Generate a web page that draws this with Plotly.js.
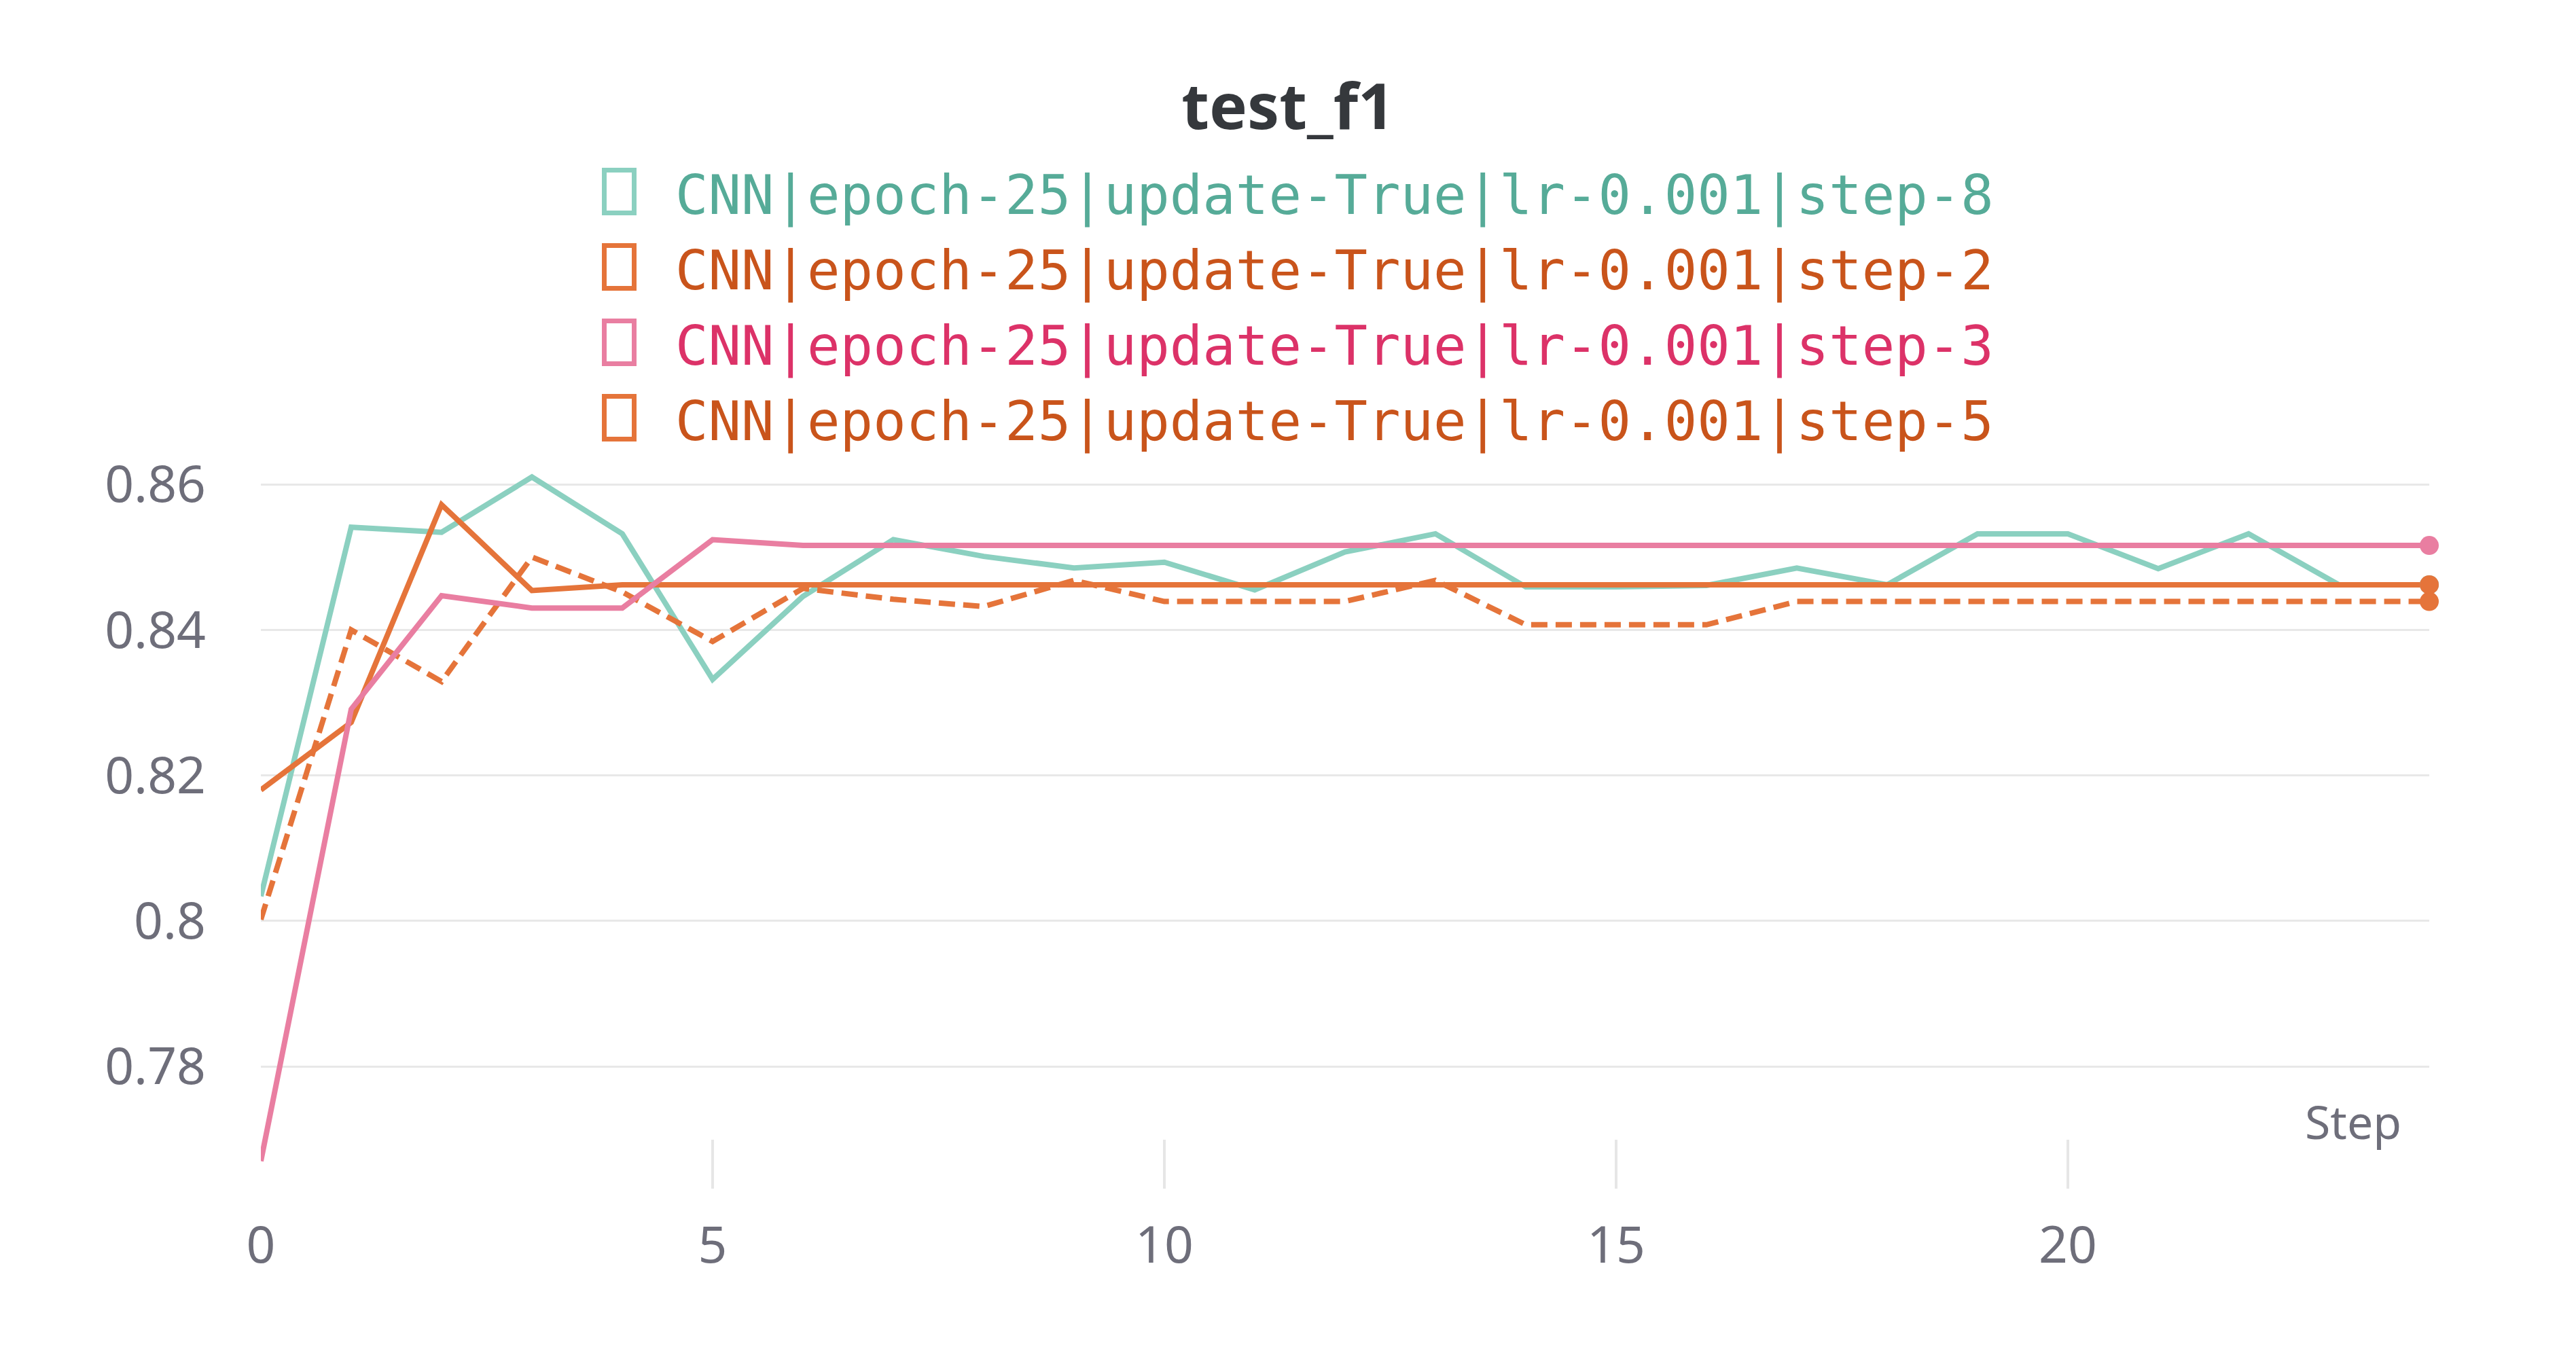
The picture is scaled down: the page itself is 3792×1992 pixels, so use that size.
<!DOCTYPE html>
<html><head><meta charset="utf-8">
<script src="https://cdn.plot.ly/plotly-3.0.1.min.js"></script>
<style>html,body{margin:0;padding:0;background:#fff;} #chart{width:3792px;height:1992px;}</style>
</head><body><div id="chart"></div>
<script>
// ---- data ----
const steps = [0,1,2,3,4,5,6,7,8,9,10,11,12,13,14,15,16,17,18,19,20,21,22,23,24];
const step8 = [0.8034,0.8541,0.8534,0.8610,0.8532,0.8332,0.8446,0.8524,0.8501,0.8485,0.8493,0.8455,0.8507,0.8532,0.8459,0.8459,0.8461,0.8485,0.8462,0.8532,0.8532,0.8484,0.8532,0.8462,0.8462];
const step2 = [0.8180,0.8273,0.8572,0.8454,0.8462,0.8462,0.8462,0.8462,0.8462,0.8462,0.8462,0.8462,0.8462,0.8462,0.8462,0.8462,0.8462,0.8462,0.8462,0.8462,0.8462,0.8462,0.8462,0.8462,0.8462];
const step3 = [0.7670,0.8291,0.8447,0.8430,0.8430,0.8524,0.8516,0.8516,0.8516,0.8516,0.8516,0.8516,0.8516,0.8516,0.8516,0.8516,0.8516,0.8516,0.8516,0.8516,0.8516,0.8516,0.8516,0.8516,0.8516];
const step5 = [0.8002,0.8400,0.8329,0.8500,0.8452,0.8384,0.8457,0.8442,0.8432,0.8468,0.8439,0.8439,0.8439,0.8468,0.8407,0.8407,0.8407,0.8439,0.8439,0.8439,0.8439,0.8439,0.8439,0.8439,0.8439];
const seriesNames = [
  "CNN|epoch-25|update-True|lr-0.001|step-8",
  "CNN|epoch-25|update-True|lr-0.001|step-2",
  "CNN|epoch-25|update-True|lr-0.001|step-3",
  "CNN|epoch-25|update-True|lr-0.001|step-5"
];
const xTickVals = [0,5,10,15,20];
const yTickVals = [0.78,0.80,0.82,0.84,0.86];
const yTickText = ["0.78","0.8","0.82","0.84","0.86"];
const chartTitle = "test_f1";
const xLabel = "Step";

// ---- styles ----
const lineColors = ['#8bd0c0','#e5743a','#e97ea1','#e5743a'];
const textColors = ['#56ab98','#c9541b','#dc3268','#c9541b'];
const dashes = ['solid','solid','solid','24px,12px'];
const seriesData = [step8, step2, step3, step5];
const drawOrder = [0,3,1,2];

const W = 3792, H = 1992;
const L = 384, R = 3576, T = 690, B = 1750;
const px = x => (x - L) / (R - L);
const py = y => (B - y) / (B - T);
const tickFont = {family:'Noto Sans', size:75, color:'#6e6e7a'};

const traces = [];
drawOrder.forEach(i => {
  traces.push({
    x: steps, y: seriesData[i], type:'scatter', mode:'lines', name: seriesNames[i],
    line:{color:lineColors[i], width:8, dash:dashes[i]}, cliponaxis:false, hoverinfo:'skip'
  });
});
drawOrder.forEach(i => {
  const n = steps.length - 1;
  traces.push({
    x:[steps[n]], y:[seriesData[i][n]], type:'scatter', mode:'markers',
    marker:{color:lineColors[i], size:28}, cliponaxis:false, hoverinfo:'skip'
  });
});

// legend built from text + box shapes
const annotations = [];
const shapes = [];
seriesNames.forEach((nm, i) => {
  const capMid = 287.5 + i*111;
  const boxTop = 250.5 + i*111;
  annotations.push({
    xref:'paper', yref:'paper', x: px(992), y: py(capMid), xanchor:'left', yanchor:'middle',
    text: nm, showarrow:false, font:{family:'DejaVu Sans Mono', size:80.6, color:textColors[i]}
  });
  shapes.push({
    type:'rect', xref:'paper', yref:'paper', x0: px(889.5), x1: px(933.5), y0: py(boxTop+63), y1: py(boxTop),
    line:{color:lineColors[i], width:7}, fillcolor:'rgba(0,0,0,0)', layer:'above'
  });
});
annotations.push({
  xref:'paper', yref:'paper', x: px(3537), y: py(1650), xanchor:'right', yanchor:'middle',
  text: xLabel, showarrow:false, font:{family:'Noto Sans', size:68, color:'#6e6e7a'}
});

const layout = {
  width:W, height:H, margin:{l:L, r:W-R, t:T, b:H-B, pad:0},
  paper_bgcolor:'#ffffff', plot_bgcolor:'#ffffff', showlegend:false,
  title:{text:chartTitle, font:{family:'Noto Sans', size:94, color:'#35383c', weight:700},
         x:0.5, xref:'container', xanchor:'center', y:1-157/H, yref:'container', yanchor:'middle'},
  xaxis:{range:[0,24], tickvals:xTickVals, ticks:'inside', ticklen:72, tickwidth:4, tickcolor:'#e6e6e6',
         showgrid:false, zeroline:false, showline:false, tickfont:tickFont, ticklabelstandoff:33, fixedrange:true},
  yaxis:{range:[0.76322,0.86215], tickvals:yTickVals, ticktext:yTickText, ticks:'', showgrid:true,
         gridcolor:'#e8e8e8', gridwidth:3, zeroline:false, showline:false, tickfont:tickFont, ticklabelstandoff:80, fixedrange:true},
  annotations:annotations, shapes:shapes
};
Plotly.newPlot('chart', traces, layout, {displayModeBar:false, staticPlot:true});
</script></body></html>
